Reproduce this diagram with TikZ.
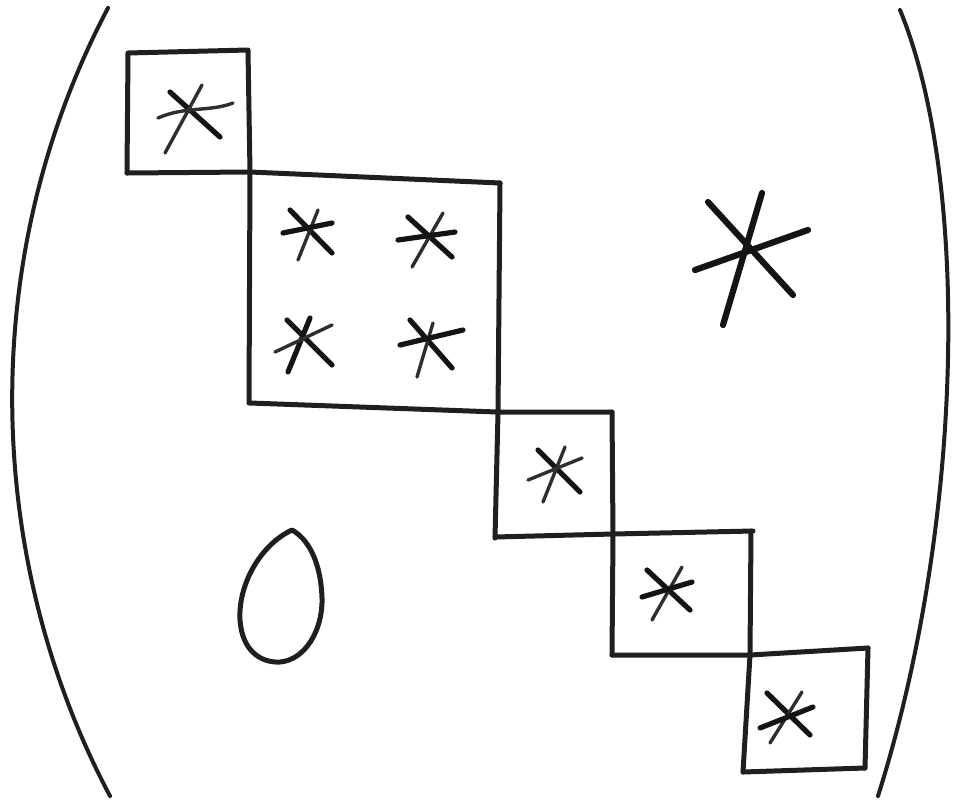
\documentclass[tikz,border=0pt]{standalone}
\begin{document}
\begin{tikzpicture}[x=1pt,y=-1pt,
  pen/.style={line width=5pt,line cap=round,line join=round,black!88},
  paren/.style={line width=4pt,line cap=round,black!88},
  st/.style={line width=5.2pt,line cap=round,black!92},
  thin/.style={line width=3.4pt,line cap=round,black!82},
  bigst/.style={line width=6.2pt,line cap=round,black!92}]
\useasboundingbox (0,0) rectangle (955,801);
% parentheses
\draw[paren] (108,8) .. controls (-25,260) and (-15,560) .. (110,796);
\draw[paren] (900,10) .. controls (970,180) and (965,520) .. (878,796);
% block outlines
\draw[pen] (127,173) -- (128,53) -- (248,50) -- (250,172) -- (249,403);
\draw[pen] (127,173) -- (250,172) -- (500,183);
\draw[pen] (500,183) -- (498,413) -- (495,538);
\draw[pen] (250,403) -- (497,412) -- (612,412);
\draw[pen] (612,412) -- (613,535) -- (612,655);
\draw[pen] (495,537) -- (613,534) -- (753,531);
\draw[pen] (751,531) -- (750,655) -- (743,772);
\draw[pen] (612,655) -- (750,655) -- (868,648);
\draw[pen] (868,648) -- (865,768);
\draw[pen] (743,772) -- (865,768);
% stars
\draw[st] (170,92) -- (220,137);
\draw[thin] (202,85) -- (165,153);
\draw[thin] (158,118) .. controls (185,106) and (210,112) .. (233,103);
\draw[st] (290,210) -- (332,253);
\draw[thin] (318,210) -- (298,260);
\draw[st] (283,233) -- (332,223);
\draw[st] (408,217) -- (452,257);
\draw[thin] (443,213) -- (412,267);
\draw[st] (398,240) -- (455,232);
\draw[st] (287,320) -- (332,365);
\draw[st] (310,318) -- (288,372);
\draw[thin] (275,352) -- (332,325);
\draw[st] (410,320) -- (452,368);
\draw[thin] (433,323) -- (417,377);
\draw[st] (400,345) -- (463,330);
\draw[st] (538,450) -- (580,492);
\draw[thin] (565,447) -- (543,502);
\draw[thin] (528,480) -- (582,458);
\draw[st] (647,570) -- (690,610);
\draw[thin] (682,567) -- (652,620);
\draw[st] (642,597) -- (692,582);
\draw[st] (767,693) -- (810,735);
\draw[thin] (802,692) -- (770,743);
\draw[st] (760,728) -- (813,707);
% big star
\draw[bigst] (708,202) -- (793,295);
\draw[bigst] (762,193) -- (723,325);
\draw[bigst] (695,270) -- (808,230);
% zero (oval)
\draw[pen] (292,530) .. controls (260,545) and (238,585) .. (240,620)
  .. controls (242,650) and (260,663) .. (280,662)
  .. controls (305,660) and (323,630) .. (322,598)
  .. controls (321,565) and (310,540) .. cycle;
\end{tikzpicture}
\end{document}
